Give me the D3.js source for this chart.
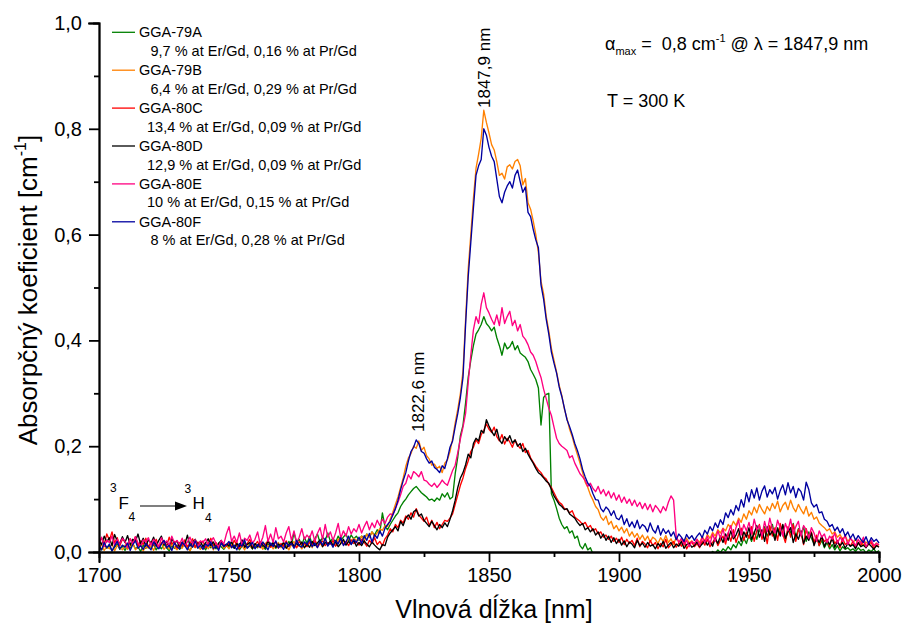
<!DOCTYPE html>
<html><head><meta charset="utf-8">
<script src="https://cdn.jsdelivr.net/npm/d3@7/dist/d3.min.js"></script>
<style>
body{margin:0;background:#fff}
svg{display:block;font-family:"Liberation Sans",Arial,Helvetica,sans-serif}
</style>
</head><body>
<svg id="chart" width="903" height="624"></svg>
<script>
// ---------- DATA ----------
// sampling grid: 1700..2000 nm, 1 nm step
const wavelengths = d3.range(1700, 2001, 1);
const seriesNames = ["GGA-79A","GGA-79B","GGA-80C","GGA-80D","GGA-80E","GGA-80F"];
const seriesNotes = [
  "9,7 % at Er/Gd, 0,16 % at Pr/Gd",
  "6,4 % at Er/Gd, 0,29 % at Pr/Gd",
  "13,4 % at Er/Gd, 0,09 % at Pr/Gd",
  "12,9 % at Er/Gd, 0,09 % at Pr/Gd",
  "10 % at Er/Gd, 0,15 % at Pr/Gd",
  "8 % at Er/Gd, 0,28 % at Pr/Gd"
];
const seriesColors = ["#008000","#ff8000","#ff0000","#000000","#ff0080","#0000a0"];
const xTickValues = [1700,1750,1800,1850,1900,1950,2000];
const xMinorTicks = [1725,1775,1825,1875,1925,1975];
const yTickValues = [0,0.2,0.4,0.6,0.8,1.0];
const yMinorTicks = [0.1,0.3,0.5,0.7,0.9];

// absorption coefficient [cm^-1], one value per nm from 1700 nm
const gga79A = [
.010,.004,.014,.007,.012,.002,.009,.015,.005,.011,
.003,.012,.008,.016,.006,.010,.001,.013,.007,.011,
.009,.014,.004,.011,.006,.015,.008,.002,.012,.007,
.013,.005,.010,.016,.008,.003,.012,.009,.014,.006,
.011,.004,.015,.008,.013,.006,.017,.010,.005,.012,
.009,.016,.007,.013,.004,.011,.018,.008,.014,.006,
.012,.008,.017,.010,.005,.015,.011,.019,.007,.013,
.010,.016,.009,.020,.013,.036,.018,.024,.012,.028,
.016,.030,.014,.025,.034,.018,.028,.022,.036,.020,
.026,.018,.030,.022,.028,.034,.021,.032,.025,.030,
.022,.030,.026,.034,.028,.038,.032,.042,.036,.074,
.048,.042,.052,.060,.068,.074,.086,.094,.100,.108,
.114,.120,.124,.118,.112,.108,.104,.098,.100,.096,
.102,.098,.110,.104,.112,.100,.104,.148,.180,.220,
.240,.282,.330,.362,.390,.412,.420,.430,.445,.432,
.426,.418,.425,.405,.390,.372,.395,.384,.388,.398,
.382,.390,.376,.372,.368,.360,.345,.336,.326,.310,
.240,.292,.298,.300,.110,.098,.082,.064,.052,.044,
.048,.036,.040,.026,.030,.012,.006,.016,.004,.008,
-.004,-.008,-.012,-.010,-.014,-.011,-.015,-.012,-.016,-.013,
-.014,-.016,-.012,-.015,-.018,-.013,-.016,-.014,-.017,-.012,
-.015,-.013,-.017,-.012,-.016,-.014,-.011,-.015,-.013,-.016,
-.012,-.014,-.010,-.013,-.011,-.014,-.009,-.012,-.010,-.008,
-.006,-.009,-.004,-.007,-.002,-.005,.001,-.003,.004,-.001,
.006,.002,.010,.004,.014,.008,.020,.012,.026,.016,
.032,.020,.038,.024,.044,.028,.048,.030,.040,.052,
.026,.046,.034,.050,.022,.042,.036,.054,.028,.044,
.032,.048,.020,.038,.026,.016,.030,.012,.022,.008,
.018,.006,.014,.004,.012,.002,.010,.005,.008,.003,
.006,.001,.008,.003,.005,-.002,.004,.001,.006,-.001,.003
];
const gga79B = [
.008,.014,.003,.010,.006,.016,.002,.012,.009,.004,
.013,.005,.011,.017,.004,.009,.015,.002,.010,.007,
.012,.003,.014,.008,.018,.005,.011,.006,.015,.009,
.004,.013,.007,.016,.010,.002,.014,.008,.012,.005,
.011,.017,.006,.013,.004,.015,.009,.018,.007,.012,
.006,.014,.010,.019,.008,.012,.004,.016,.011,.007,
.015,.009,.013,.005,.017,.010,.014,.006,.012,.018,
.008,.016,.011,.004,.014,.020,.009,.013,.006,.015,
.011,.018,.008,.022,.013,.017,.010,.024,.014,.020,
.016,.012,.025,.018,.021,.014,.028,.020,.026,.022,
.024,.030,.020,.034,.027,.038,.029,.036,.044,.041,
.050,.048,.062,.075,.090,.104,.122,.140,.162,.178,
.186,.200,.196,.210,.192,.198,.182,.176,.164,.166,
.158,.162,.150,.168,.174,.190,.214,.244,.270,.300,
.342,.440,.535,.600,.668,.725,.752,.782,.835,.812,
.792,.770,.760,.738,.712,.716,.705,.728,.732,.724,
.738,.742,.730,.694,.706,.660,.648,.626,.600,.566,
.512,.488,.446,.418,.385,.362,.340,.315,.296,.270,
.252,.232,.218,.200,.184,.168,.150,.132,.122,.108,
.098,.086,.080,.066,.060,.068,.052,.058,.044,.050,
.040,.047,.036,.044,.030,.038,.028,.035,.024,.032,
.022,.030,.019,.028,.024,.016,.027,.020,.031,.018,
.025,.014,.028,.019,.023,.012,.026,.017,.021,.015,
.024,.018,.029,.021,.033,.026,.037,.030,.042,.036,
.045,.040,.052,.046,.058,.050,.064,.056,.072,.062,
.078,.070,.085,.074,.090,.080,.072,.086,.078,.092,
.082,.096,.076,.088,.094,.080,.098,.084,.076,.090,
.080,.072,.086,.068,.075,.062,.066,.055,.050,.046,
.040,.044,.034,.038,.028,.033,.024,.030,.020,.026,
.018,.024,.015,.021,.012,.019,.014,.022,.011,.017,.013
];
const gga80C = [
.018,.026,.015,.034,.022,.038,.017,.027,.012,.024,
.020,.010,.025,.016,.029,.011,.021,.014,.026,.009,
.019,.013,.024,.008,.017,.022,.011,.028,.015,.020,
.007,.018,.012,.023,.010,.016,.025,.009,.019,.013,
.021,.008,.015,.026,.012,.018,.006,.020,.014,.011,
.017,.009,.022,.013,.006,.019,.011,.016,.024,.010,
.014,.020,.008,.017,.012,.023,.009,.015,.019,.007,
.016,.011,.021,.010,.018,.013,.008,.020,.014,.017,
.010,.019,.013,.024,.009,.016,.021,.012,.018,.015,
.022,.011,.017,.026,.014,.020,.012,.023,.016,.019,
.013,.024,.018,.011,.022,.016,.027,.014,.020,.012,
.025,.032,.044,.038,.052,.046,.060,.055,.068,.062,
.074,.066,.082,.070,.064,.058,.066,.050,.060,.046,
.056,.044,.052,.060,.058,.064,.072,.090,.108,.126,
.140,.158,.172,.190,.198,.212,.205,.222,.230,.242,
.232,.226,.236,.218,.210,.222,.204,.215,.208,.198,
.212,.202,.196,.205,.188,.192,.178,.170,.162,.155,
.150,.142,.138,.128,.122,.112,.102,.094,.090,.082,
.080,.074,.078,.066,.062,.058,.052,.056,.046,.050,
.040,.044,.034,.038,.028,.032,.024,.030,.020,.026,
.018,.028,.014,.024,.016,.022,.012,.026,.010,.020,
.015,.008,.022,.012,.018,.006,.016,.010,.024,.008,
.014,.020,.009,.017,.011,.023,.006,.015,.019,.010,
.016,.008,.021,.013,.024,.010,.018,.027,.012,.022,
.030,.015,.036,.020,.042,.018,.033,.045,.022,.038,
.026,.048,.020,.040,.052,.024,.044,.016,.050,.030,
.046,.022,.054,.034,.018,.048,.028,.052,.020,.042,
.036,.014,.044,.026,.038,.018,.032,.012,.028,.020,
.024,.010,.030,.016,.022,.008,.026,.014,.018,.011,
.020,.008,.017,.012,.022,.009,.015,.018,.007,.013,.010
];
const gga80D = [
.022,.014,.030,.019,.027,.012,.033,.021,.016,.029,
.018,.031,.013,.024,.020,.034,.015,.026,.011,.023,
.017,.028,.012,.022,.030,.014,.020,.010,.025,.016,
.021,.009,.019,.014,.032,.011,.018,.024,.013,.020,
.010,.017,.025,.012,.019,.008,.016,.022,.011,.015,
.012,.020,.007,.016,.011,.023,.009,.014,.018,.006,
.016,.010,.019,.013,.008,.021,.012,.017,.009,.015,
.011,.018,.007,.014,.020,.010,.016,.012,.019,.008,
.015,.009,.020,.012,.017,.023,.010,.018,.014,.021,
.012,.019,.010,.016,.024,.013,.020,.015,.022,.011,
.018,.012,.021,.015,.010,.019,.013,.008,.004,.014,
.012,.028,.036,.042,.048,.040,.058,.050,.064,.070,
.062,.076,.080,.068,.072,.060,.054,.048,.058,.050,
.042,.052,.046,.055,.048,.062,.078,.098,.122,.140,
.150,.165,.185,.178,.205,.215,.210,.230,.225,.250,
.238,.228,.220,.232,.212,.205,.218,.210,.220,.206,
.212,.200,.205,.190,.196,.185,.176,.168,.158,.150,
.146,.140,.134,.130,.118,.106,.098,.090,.086,.080,
.082,.072,.068,.064,.056,.050,.054,.042,.046,.038,
.044,.032,.038,.026,.034,.022,.030,.018,.027,.016,
.024,.013,.021,.010,.019,.015,.008,.022,.012,.017,
.009,.018,.011,.014,.006,.016,.010,.020,.007,.013,
.018,.008,.015,.011,.020,.007,.014,.017,.009,.012,
.019,.010,.015,.022,.013,.020,.011,.026,.016,.030,
.018,.034,.022,.040,.025,.032,.044,.020,.038,.028,
.046,.024,.036,.050,.028,.042,.020,.048,.032,.040,
.022,.044,.030,.052,.026,.038,.046,.018,.034,.024,
.040,.016,.030,.022,.036,.012,.026,.018,.030,.010,
.022,.014,.026,.009,.020,.012,.018,.007,.016,.011,
.014,.006,.018,.010,.013,.008,.016,.011,.005,.012,.009
];
const gga80E = [
.016,.028,.010,.022,.018,.030,.012,.024,.015,.026,
.020,.008,.025,.014,.029,.017,.011,.023,.019,.027,
.013,.024,.018,.009,.027,.016,.021,.012,.030,.017,
.022,.014,.026,.011,.019,.028,.015,.023,.010,.021,
.018,.025,.013,.020,.027,.016,.010,.022,.015,.034,
.048,.020,.030,.018,.036,.014,.026,.022,.032,.016,
.024,.038,.015,.028,.050,.020,.034,.018,.046,.025,
.030,.019,.036,.048,.022,.040,.018,.028,.044,.024,
.032,.026,.040,.020,.035,.046,.024,.052,.028,.038,
.022,.036,.054,.026,.040,.030,.048,.034,.044,.038,
.052,.036,.048,.058,.042,.055,.046,.060,.050,.062,
.054,.066,.072,.070,.082,.094,.108,.124,.130,.146,
.138,.152,.148,.142,.152,.136,.134,.128,.124,.130,
.122,.128,.136,.130,.126,.140,.154,.164,.188,.214,
.236,.262,.320,.372,.420,.445,.432,.468,.490,.462,
.452,.440,.430,.448,.428,.462,.432,.445,.455,.428,
.438,.418,.430,.408,.402,.392,.378,.372,.360,.344,
.330,.308,.290,.272,.258,.236,.215,.205,.200,.196,
.192,.178,.182,.168,.158,.148,.142,.135,.124,.130,
.120,.114,.124,.110,.118,.106,.115,.102,.112,.098,
.108,.094,.104,.092,.100,.088,.098,.086,.094,.082,
.092,.080,.090,.076,.088,.082,.074,.086,.078,.094,
.106,.098,.030,.018,.026,.014,.022,.010,.020,.016,
.024,.012,.028,.018,.030,.015,.034,.020,.040,.026,
.044,.022,.036,.050,.028,.046,.060,.032,.052,.040,
.056,.034,.062,.042,.050,.030,.058,.038,.064,.044,
.036,.060,.046,.030,.054,.040,.062,.034,.048,.058,
.030,.050,.042,.026,.046,.036,.020,.040,.028,.034,
.018,.030,.024,.036,.016,.028,.020,.032,.014,.026,
.020,.012,.024,.016,.028,.010,.018,.022,.012,.016,.014
];
const gga80F = [
.012,.004,.018,.008,.015,.002,.011,.020,.006,.013,
.009,.017,.003,.014,.021,.007,.012,.005,.016,.010,
.004,.019,.011,.006,.015,.022,.008,.013,.003,.017,
.010,.006,.018,.012,.004,.016,.009,.021,.007,.013,
.005,.015,.011,.019,.006,.012,.003,.017,.010,.014,
.020,.008,.013,.004,.016,.011,.023,.007,.012,.018,
.006,.014,.009,.019,.012,.004,.017,.010,.021,.008,
.013,.005,.018,.011,.016,.007,.022,.012,.009,.019,
.014,.024,.010,.017,.008,.021,.013,.026,.011,.018,
.009,.022,.015,.027,.012,.019,.030,.014,.024,.018,
.028,.016,.031,.022,.035,.019,.033,.026,.040,.030,
.045,.052,.058,.070,.082,.098,.118,.135,.150,.172,
.190,.198,.212,.205,.190,.187,.176,.168,.172,.160,
.156,.150,.163,.158,.176,.198,.210,.237,.262,.292,
.330,.430,.520,.585,.650,.712,.730,.742,.800,.788,
.765,.748,.738,.705,.672,.660,.680,.692,.700,.688,
.712,.722,.700,.680,.690,.642,.634,.610,.590,.575,
.505,.478,.440,.412,.378,.357,.338,.312,.294,.272,
.250,.237,.222,.205,.192,.176,.156,.142,.130,.124,
.110,.099,.098,.082,.076,.085,.080,.069,.078,.064,
.061,.070,.052,.063,.048,.057,.046,.060,.044,.052,
.048,.038,.055,.042,.036,.050,.032,.044,.035,.041,
.030,.038,.023,.034,.028,.020,.033,.025,.031,.022,
.030,.036,.027,.041,.034,.048,.040,.055,.046,.061,
.052,.074,.065,.080,.070,.088,.078,.099,.085,.112,
.095,.118,.102,.121,.098,.115,.125,.104,.118,.110,
.122,.100,.116,.127,.108,.131,.112,.124,.103,.120,
.114,.098,.132,.118,.093,.085,.090,.074,.076,.062,
.058,.048,.052,.040,.047,.036,.044,.030,.038,.026,
.034,.022,.031,.024,.018,.029,.016,.027,.020,.024,.017
];
const seriesValues = [gga79A, gga79B, gga80C, gga80D, gga80E, gga80F];

// ---------- CHART ----------
const svg = d3.select("#chart");
const plot = {left: 99, right: 879, top: 23, bottom: 552};
const x = d3.scaleLinear().domain([1700, 2000]).range([plot.left, plot.right]);
const y = d3.scaleLinear().domain([0, 1.0]).range([plot.bottom, plot.top]);
const fmtComma = v => d3.format(".1f")(v).replace(".", ",");

svg.append("defs").append("clipPath").attr("id","clip")
  .append("rect").attr("x", plot.left).attr("y", plot.top - 5)
  .attr("width", plot.right - plot.left + 1).attr("height", plot.bottom - plot.top + 5);

// curves
const line = d3.line().x((d, i) => x(wavelengths[i])).y(d => y(d));
const curves = svg.append("g").attr("clip-path", "url(#clip)");
seriesValues.forEach((vals, k) => {
  curves.append("path").datum(vals)
    .attr("d", line).attr("fill", "none")
    .attr("stroke", seriesColors[k]).attr("stroke-width", 1.35)
    .attr("stroke-linejoin", "round");
});

// axes
function styleAxis(g) {
  g.select(".domain").attr("stroke", "#000").attr("stroke-width", 1.8);
  g.selectAll(".tick line").attr("stroke", "#000").attr("stroke-width", 1.8);
  g.selectAll(".tick text").attr("fill", "#000").attr("font-size", 20)
   .attr("font-family", "Liberation Sans, Arial, sans-serif");
}
const xAxis = svg.append("g").attr("transform", `translate(0,${plot.bottom})`)
  .call(d3.axisBottom(x).tickValues(xTickValues).tickFormat(d3.format("d")).tickSize(10).tickPadding(6));
styleAxis(xAxis);
const xMinor = svg.append("g").attr("transform", `translate(0,${plot.bottom})`)
  .call(d3.axisBottom(x).tickValues(xMinorTicks).tickFormat("").tickSize(5));
styleAxis(xMinor);
const yAxis = svg.append("g").attr("transform", `translate(${plot.left},0)`)
  .call(d3.axisLeft(y).tickValues(yTickValues).tickFormat(fmtComma).tickSize(10).tickPadding(7));
styleAxis(yAxis);
const yMinor = svg.append("g").attr("transform", `translate(${plot.left},0)`)
  .call(d3.axisLeft(y).tickValues(yMinorTicks).tickFormat("").tickSize(5));
styleAxis(yMinor);
svg.selectAll(".domain").attr("stroke-linecap", "square");

// axis titles
svg.append("text").attr("x", 494).attr("y", 618).attr("text-anchor", "middle")
  .attr("font-size", 25).text("Vlnová dĺžka [nm]");
const yt = svg.append("text").attr("transform", "translate(37,290) rotate(-90)")
  .attr("text-anchor", "middle").attr("font-size", 26);
yt.append("tspan").text("Absorpčný koeficient [cm");
yt.append("tspan").attr("font-size", 16).attr("dy", -11).text("-1");
yt.append("tspan").attr("dy", 11).text("]");

// legend
const legend = svg.append("g");
seriesNames.forEach((name, k) => {
  const cy = 32.3 + k * 37.9;
  legend.append("line").attr("x1", 112).attr("x2", 135).attr("y1", cy).attr("y2", cy)
    .attr("stroke", seriesColors[k]).attr("stroke-width", 1.3);
  legend.append("text").attr("x", 139).attr("y", cy + 5).attr("font-size", 14.5).text(name);
  const note = seriesNotes[k];
  const twoDigit = /^\d\d/.test(note);
  legend.append("text").attr("x", twoDigit ? 147 : 150.5).attr("y", cy + 23.5)
    .attr("font-size", 14.5).text(note);
});

// annotations
const a1 = svg.append("text").attr("x", 605).attr("y", 49.5).attr("font-size", 18)
  .attr("xml:space", "preserve");
a1.append("tspan").text("α");
a1.append("tspan").attr("font-size", 11).attr("dy", 5).text("max");
a1.append("tspan").attr("dy", -5).text("\u00a0=\u00a0\u00a00,8 cm");
a1.append("tspan").attr("font-size", 11).attr("dy", -8).text("-1");
a1.append("tspan").attr("dy", 8).text(" @ λ = 1847,9 nm");
svg.append("text").attr("x", 607).attr("y", 106.5).attr("font-size", 18).text("T = 300 K");

svg.append("text").attr("transform", `translate(${x(1847.9) + 6},108) rotate(-90)`)
  .attr("font-size", 17).text("1847,9 nm");
svg.append("text").attr("transform", `translate(${x(1822.6) + 6},432) rotate(-90)`)
  .attr("font-size", 17).text("1822,6 nm");

// transition label 3F4 -> 3H4
const tr = svg.append("g").attr("font-size", 17);
tr.append("text").attr("x", 110).attr("y", 492).attr("font-size", 12).text("3");
tr.append("text").attr("x", 118.5).attr("y", 508.5).text("F");
tr.append("text").attr("x", 128.5).attr("y", 521).attr("font-size", 12).text("4");
tr.append("line").attr("x1", 140).attr("x2", 177).attr("y1", 506).attr("y2", 506)
  .attr("stroke", "#000").attr("stroke-width", 1.2);
tr.append("path").attr("d", "M175,501.5 L187,506 L175,510.5 Z").attr("fill", "#000");
tr.append("text").attr("x", 184.5).attr("y", 493).attr("font-size", 12).text("3");
tr.append("text").attr("x", 192.5).attr("y", 508.5).text("H");
tr.append("text").attr("x", 205).attr("y", 522).attr("font-size", 12).text("4");
</script>
</body></html>
